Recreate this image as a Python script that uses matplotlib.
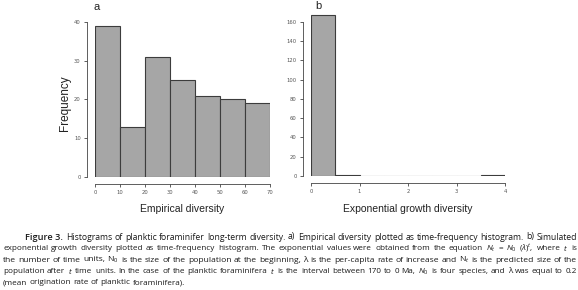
import matplotlib
matplotlib.use("Agg")
import matplotlib.pyplot as plt
import numpy as np

# panel a: empirical diversity histogram
a_edges = [0, 10, 20, 30, 40, 50, 60, 70]
a_counts = [39, 13, 31, 25, 21, 20, 19]
a_yticks = [0, 10, 20, 30, 40]

# panel b: exponential growth diversity histogram
b_edges = [0, 0.5, 1.0, 1.5, 2.0, 2.5, 3.0, 3.5, 4.0]
b_counts = [167, 1, 0, 0, 0, 0, 0, 1]
b_yticks = [0, 20, 40, 60, 80, 100, 120, 140, 160]
b_xticks = [0, 1, 2, 3, 4]

caption = [
    "Histograms of planktic foraminifer long-term diversity. a) Empirical diversity plotted as time-frequency histogram. b) Simulated",
    "exponential growth diversity plotted as time-frequency histogram. The exponential values were obtained from the equation $N_t$ = $N_0$ $(\\lambda)^t$, where $t$ is",
    "the number of time units, N$_0$ is the size of the population at the beginning, \u03bb is the per-capita rate of increase and N$_t$ is the predicted size of the",
    "population after $t$ time units. In the case of the planktic foraminifera $t$ is the interval between 170 to 0 Ma, $N_0$ is four species, and \u03bb was equal to 0.2",
    "(mean origination rate of planktic foraminifera).",
]

plt.rcParams['mathtext.fontset'] = 'custom'
plt.rcParams['mathtext.rm'] = 'Open Sans'
plt.rcParams['mathtext.it'] = 'Open Sans:italic'

W, H = 578, 290
fig = plt.figure(figsize=(W / 100, H / 100), dpi=100)


def fx(x):
    return x / W


def fy(y):
    return 1 - y / H


def r_style(ax, xticks, yticks):
    for s in ['top', 'right']:
        ax.spines[s].set_visible(False)
    ax.spines['left'].set_position(('outward', 5.8))
    ax.spines['bottom'].set_position(('outward', 5))
    ax.spines['left'].set_bounds(yticks[0], yticks[-1])
    ax.spines['bottom'].set_bounds(xticks[0], xticks[-1])
    for s in ['left', 'bottom']:
        ax.spines[s].set_linewidth(0.6)
        ax.spines[s].set_color('#444444')
    ax.set_xticks(xticks)
    ax.set_yticks(yticks)
    ax.tick_params(length=2, width=0.6, color='#444444', labelsize=3.8,
                   labelcolor='#555555', pad=2.5)


bar_kw = dict(color='#a6a6a6', edgecolor='#3c3c3c', linewidth=0.8, align='edge')

# panel a
ax1 = fig.add_axes([fx(95), fy(177), fx(175), (177 - 18) / H])
ax1.bar(a_edges[:-1], a_counts, width=np.diff(a_edges), **bar_kw)
ax1.set_xlim(a_edges[0], a_edges[-1])
ax1.set_ylim(0, 41)
r_style(ax1, a_edges, a_yticks)
fig.text(fx(182), fy(209), "Empirical diversity", ha='center', va='center',
         fontsize=7.5, family='Liberation Sans', color='#222222')
fig.text(fx(65), fy(103), "Frequency", ha='center', va='center', rotation=90,
         fontsize=8.5, family='Liberation Sans', color='#222222')
fig.text(fx(97), fy(7), "a", ha='center', va='center', fontsize=8,
         family='Liberation Sans', color='#222222')

# panel b
ax2 = fig.add_axes([fx(311), fy(176), fx(194), (176 - 10.4) / H])
ax2.bar(b_edges[:-1], b_counts, width=np.diff(b_edges), **bar_kw)
ax2.set_xlim(b_edges[0], b_edges[-1])
ax2.set_ylim(0, 172)
r_style(ax2, b_xticks, b_yticks)
fig.text(fx(408), fy(209), "Exponential growth diversity", ha='center', va='center',
         fontsize=7.5, family='Liberation Sans', color='#222222')
fig.text(fx(318), fy(6), "b", ha='center', va='center', fontsize=8,
         family='Liberation Sans', color='#222222')

# caption, justified line by line
line_y = [237, 248.5, 260, 271.5, 283]
renderer = fig.canvas.get_renderer()

fig_t = fig.text(fx(25), fy(line_y[0]), "Figure 3.", fontsize=6.6,
                 family='Open Sans', weight='semibold', color='#1a1a1a', va='center')
fig_w = fig_t.get_window_extent(renderer).width
starts = [25 + fig_w + 3, 3, 3, 3, 3]

sizes = []
for i, line in enumerate(caption):
    items = [fig.text(0, fy(line_y[i]), w, family='Open Sans', color='#1a1a1a',
                      ha='left', va='center') for w in line.split(' ')]
    last = i == len(caption) - 1
    # each justified line gets the largest size (up to 6.5) keeping gaps >= 2.2 px
    size = min(sizes) if last else 6.5
    while True:
        for t in items:
            t.set_fontsize(size)
        widths = [t.get_window_extent(renderer).width for t in items]
        gap = (577 - starts[i] - sum(widths)) / (len(items) - 1)
        if last or gap >= 2.2 or size < 5:
            break
        size -= 0.1
    sizes.append(size)
    if last:
        gap = 2.2
    x = starts[i]
    for t, w in zip(items, widths):
        t.set_x(fx(x))
        x += w + gap

fig.savefig("out.png", dpi=100)
